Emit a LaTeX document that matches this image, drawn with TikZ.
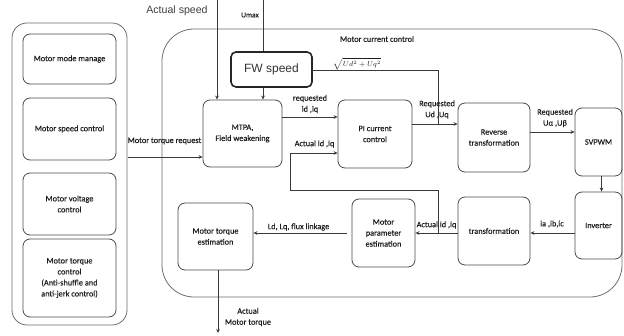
\documentclass[tikz,border=0pt]{standalone}
\usepackage{fontspec}
\setmainfont[FakeBold=0.35]{Carlito}
\newfontfamily\lsans{Liberation Sans}
\usetikzlibrary{arrows.meta,calc}
\newcommand\lblfont{\fontsize{8.3}{11}\selectfont}
\definecolor{linec}{HTML}{3A3A3A}
\definecolor{boxc}{HTML}{4A4A4A}
\definecolor{txtc}{HTML}{1E1E1E}
\begin{document}
\begin{tikzpicture}[x=1pt,y=-1pt,
  box/.style={draw=boxc, line width=0.8pt, rounded corners=7pt, align=center,
    inner sep=1pt, font=\lblfont, text=txtc},
  sz/.style 2 args={minimum width=#1, minimum height=#2},
  panel/.style={draw=boxc!80, line width=0.8pt},
  lbl/.style={font=\lblfont, text=txtc, align=center, inner sep=0.5pt},
  conn/.style={draw=linec, line width=0.7pt},
  arr/.style={conn, -{Stealth[length=4pt,width=3.6pt]}}]
\useasboundingbox[fill=white] (0,0) rectangle (624,336);

% panels
\node[panel, rounded corners=15pt, sz={115pt}{302pt}] (left) at (69.5,174) {};
\node[panel, rounded corners=32pt, sz={460pt}{268pt}] (main) at (392,163) {};
\node[lbl] (mcc) at (377,39) {Motor current control};

% left boxes
\node[box, sz={93pt}{50pt}] (mode) at (69.5,59) {Motor mode manage};
\node[box, sz={93pt}{62pt}] (speed) at (69.5,129) {Motor speed control};
\node[box, sz={93pt}{62pt}] (volt) at (69.5,204) {Motor voltage\\control};
\node[box, sz={93pt}{78pt}] (torq) at (69.5,278) {Motor torque\\control\\(Anti-shuffle and\\anti-jerk control)};

% main boxes
\node[box, draw=black!85, line width=1.6pt, rounded corners=5pt, sz={81pt}{35pt}, font=\lsans\fontsize{12}{14}\selectfont, text=black!80] (fw) at (271.5,69.5) {FW speed};
\node[box, sz={79pt}{67pt}] (mtpa) at (242.5,133.5) {MTPA,\\Field weakening};
\node[box, sz={74pt}{68pt}] (pi) at (375,134) {PI current\\control};
\node[box, sz={72pt}{69pt}] (rev) at (494,137.5) {Reverse\\transformation};
\node[box, sz={47pt}{68pt}] (svpwm) at (598.5,142) {SVPWM};
\node[box, sz={47pt}{67pt}] (inv) at (598.5,225.5) {Inverter};
\node[box, sz={72pt}{68pt}] (tra) at (494,231) {transformation};
\node[box, sz={63pt}{68pt}] (par) at (383.5,233) {Motor\\parameter\\estimation};
\node[box, sz={75pt}{67pt}] (tes) at (215.5,236.5) {Motor torque\\estimation};

% top inputs
\node[lbl, font=\lsans\fontsize{10.6}{12}\selectfont, text=black!75] (aspd) at (177,11) {Actual speed};
\node[lbl, font=\fontsize{7.5}{9}\selectfont] (umaxl) at (250,15) {Umax};
\coordinate (asx) at (217,0);
\coordinate (umx) at (263,0);
\draw[arr] (asx) -- (asx |- mtpa.north);
\draw[conn] (umx) -- (umx |- fw.north);
\draw[arr] (umx |- fw.south) -- (umx |- mtpa.north);

% torque request
\coordinate (trq) at (128,157);
\draw[arr] (trq) -- (trq -| mtpa.west);
\node[lbl] (trql) at (164.5,141) {Motor torque request};

% MTPA -> PI
\coordinate (m1) at (282,117);
\draw[arr] (m1) -- (m1 -| pi.west);
\node[lbl] (reqid) at (310,104) {requested\\id ,iq};

% FW -> sqrt junction
\coordinate (fwo) at (312,70);
\coordinate (j1) at (438,124);
\draw[conn] (fwo) -- (fwo -| j1) -- (j1);
\node[lbl, font=\fontsize{7.5}{9}\selectfont] (sq) at (357,64) {$\sqrt{Ud^2+Uq^2}$};

% PI -> Reverse
\coordinate (p1) at (412,124);
\draw[arr] (p1) -- (p1 -| rev.west);
\node[lbl] (requd) at (437,109.5) {Requested\\Ud ,Uq};

% Reverse -> SVPWM
\coordinate (r1) at (530,132);
\draw[arr] (r1) -- (r1 -| svpwm.west);
\node[lbl] (requa) at (555,118) {Requested\\Uα ,Uβ};

% SVPWM -> Inverter
\draw[arr] ([xshift=3pt]svpwm.south) -- ([xshift=3pt]inv.north);

% Inverter -> transformation
\coordinate (i1) at (575,233);
\draw[arr] (i1) -- (i1 -| tra.east);
\node[lbl] (iabc) at (552,224) {ia ,ib,ic};

% transformation -> parameter
\coordinate (t1) at (458,233);
\draw[arr] (t1) -- (t1 -| par.east);
\node[lbl] (actid2) at (436.5,225) {Actual id ,iq};

% feedback actual id,iq -> PI
\coordinate (j2) at (438,233);
\coordinate (fb) at (290,190);
\coordinate (fbi) at (290,153);
\draw[arr] (j2) -- (j2 |- fb) -- (fb) -- (fbi) -- (fbi -| pi.west);
\node[lbl] (actid1) at (314.5,144) {Actual id ,iq};

% parameter -> torque estimation
\coordinate (pe) at (347,233);
\draw[arr] (pe) -- (pe -| tes.east);
\node[lbl] (ldlq) at (298.5,227) {Ld, Lq, flux linkage};

% torque estimation -> out
\coordinate (tout) at (218,333);
\draw[arr] (tout |- tes.south) -- (tout);
\node[lbl] (atq) at (248,317) {Actual\\Motor torque};
\end{tikzpicture}
\end{document}
